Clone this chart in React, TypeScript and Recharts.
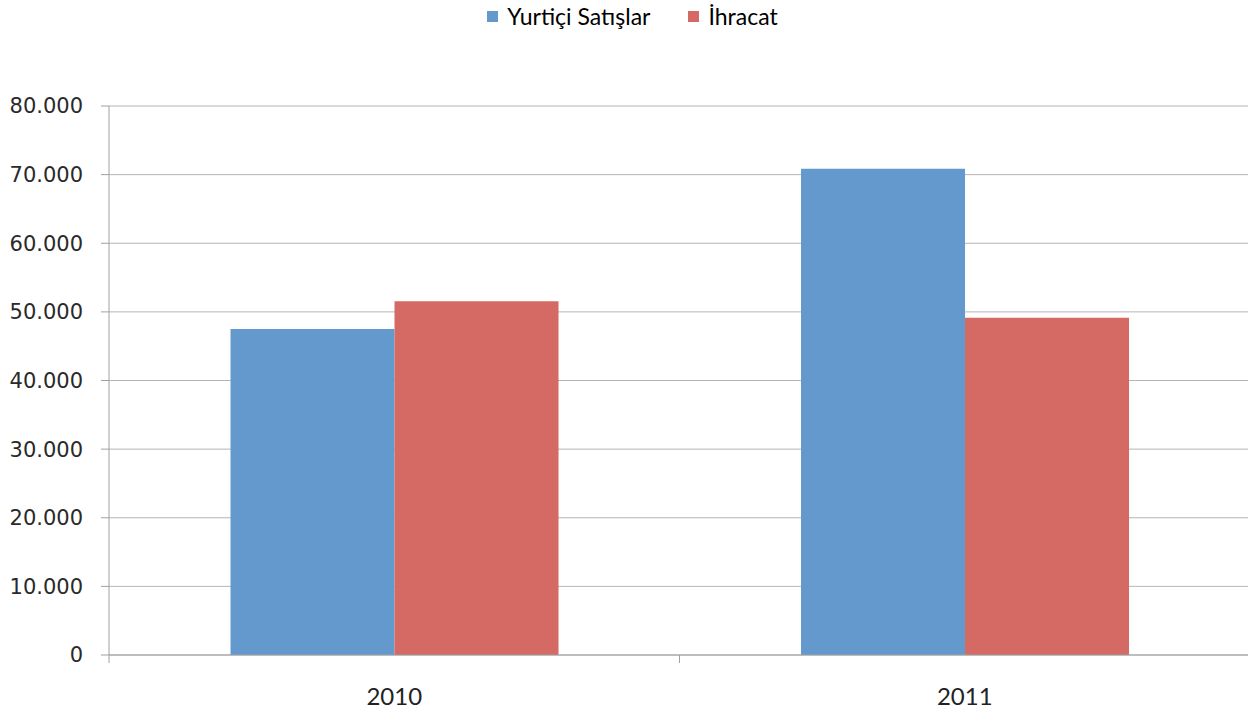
import React from "react";
import { BarChart, Bar, XAxis, YAxis, CartesianGrid, Legend } from "recharts";

const categories = ["2010", "2011"];
const yurticiSatislar = [47500, 70850];
const ihracat = [51550, 49150];
const yTicks = [0, 10000, 20000, 30000, 40000, 50000, 60000, 70000, 80000];
const boundaryTicks = [0, 1, 2];
const seriesNames = ["Yurtiçi Satışlar", "İhracat"];
const seriesColors = ["#6499CD", "#D46A63"];

const data = categories.map((c, i) => ({
  year: c,
  yurtici: yurticiSatislar[i],
  ihracat: ihracat[i],
}));

const fmt = (v: number) =>
  v === 0 ? "0" : v.toLocaleString("de-DE");

const LegendContent = () => (
  <div
    style={{
      display: "flex",
      justifyContent: "center",
      alignItems: "center",
      height: 32,
      paddingLeft: 17,
      fontFamily: "Lato",
      fontSize: 23,
      color: "#000",
    }}
  >
    {seriesNames.map((n, i) => (
      <div
        key={n}
        style={{ display: "flex", alignItems: "center", marginRight: i === 0 ? 38 : 0 }}
      >
        <div
          style={{ width: 11, height: 11, background: seriesColors[i], marginRight: 9 }}
        />
        <span>{n}</span>
      </div>
    ))}
  </div>
);

export default function App() {
  return (
    <div style={{ position: "absolute", left: 0, top: 0, width: 1248, height: 716, background: "#fff", overflow: "hidden" }}>
      <BarChart
        width={1250}
        height={716}
        data={data}
        margin={{ top: 106, right: 0, bottom: 0, left: 0 }}
        barCategoryGap="21.3%"
        barGap={0}
      >
        <CartesianGrid xAxisId="b" vertical={false} stroke="#b5b5b5" strokeWidth={1} />
        <XAxis
          xAxisId="a"
          type="number"
          dataKey="none"
          domain={[0, 2]}
          ticks={boundaryTicks}
          tickFormatter={() => ""}
          tickSize={8}
          tickLine={{ stroke: "#a0a0a0" }}
          axisLine={{ stroke: "#a0a0a0" }}
          height={1}
          allowDataOverflow
        />
        <XAxis
          xAxisId="b"
          dataKey="year"
          height={60}
          tickLine={false}
          tickSize={0}
          tickMargin={32}
          axisLine={false}
          tick={{ fill: "#222", fontFamily: "Lato", fontSize: 24 }}
        />
        <YAxis
          width={109}
          domain={[0, 80000]}
          ticks={yTicks}
          tickFormatter={fmt}
          tickSize={8}
          tickMargin={18}
          tickLine={{ stroke: "#a0a0a0" }}
          axisLine={{ stroke: "#a0a0a0" }}
          tick={{ fill: "#2a2a2a", fontFamily: "DejaVu Sans", fontSize: 21 }}
        />
        <Legend
          verticalAlign="middle"
          align="center"
          layout="horizontal"
          wrapperStyle={{ top: 0, left: 0, width: 1248 }}
          content={() => <LegendContent />}
        />
        <Bar xAxisId="b" dataKey="yurtici" name={seriesNames[0]} fill={seriesColors[0]} isAnimationActive={false} />
        <Bar xAxisId="b" dataKey="ihracat" name={seriesNames[1]} fill={seriesColors[1]} isAnimationActive={false} />
      </BarChart>
    </div>
  );
}
